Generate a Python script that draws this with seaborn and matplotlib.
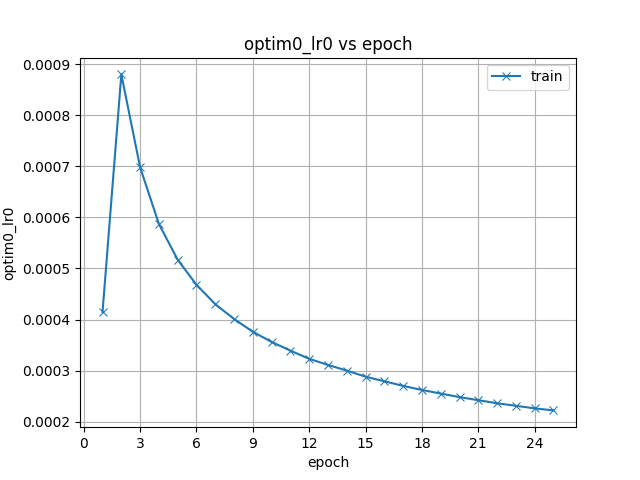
import numpy as np
import pandas as pd
import seaborn as sns
import matplotlib
matplotlib.use('Agg')
import matplotlib.pyplot as plt
from matplotlib.ticker import MaxNLocator

# values
epoch = list(range(1, 26))
lr = [0.000415, 0.000880, 0.000698, 0.000587, 0.000517, 0.000468, 0.000430,
      0.000401, 0.000376, 0.000356, 0.000339, 0.000323, 0.000311, 0.000300,
      0.000288, 0.000279, 0.000270, 0.000262, 0.000255, 0.000248, 0.000242,
      0.000236, 0.000231, 0.000226, 0.000222]

df = pd.DataFrame({'epoch': epoch, 'optim0_lr0': lr})

fig, ax = plt.subplots(figsize=(6.4, 4.8), dpi=100)
sns.lineplot(x='epoch', y='optim0_lr0', data=df, marker='x', label='train',
             color='#1f77b4', markeredgecolor='#1f77b4', ax=ax)
ax.xaxis.set_major_locator(MaxNLocator(integer=True))
ax.grid(True)
ax.set_title('optim0_lr0 vs epoch')
ax.set_xlabel('epoch')
ax.set_ylabel('optim0_lr0')
ax.legend(loc='upper right')
fig.savefig('out.png')
